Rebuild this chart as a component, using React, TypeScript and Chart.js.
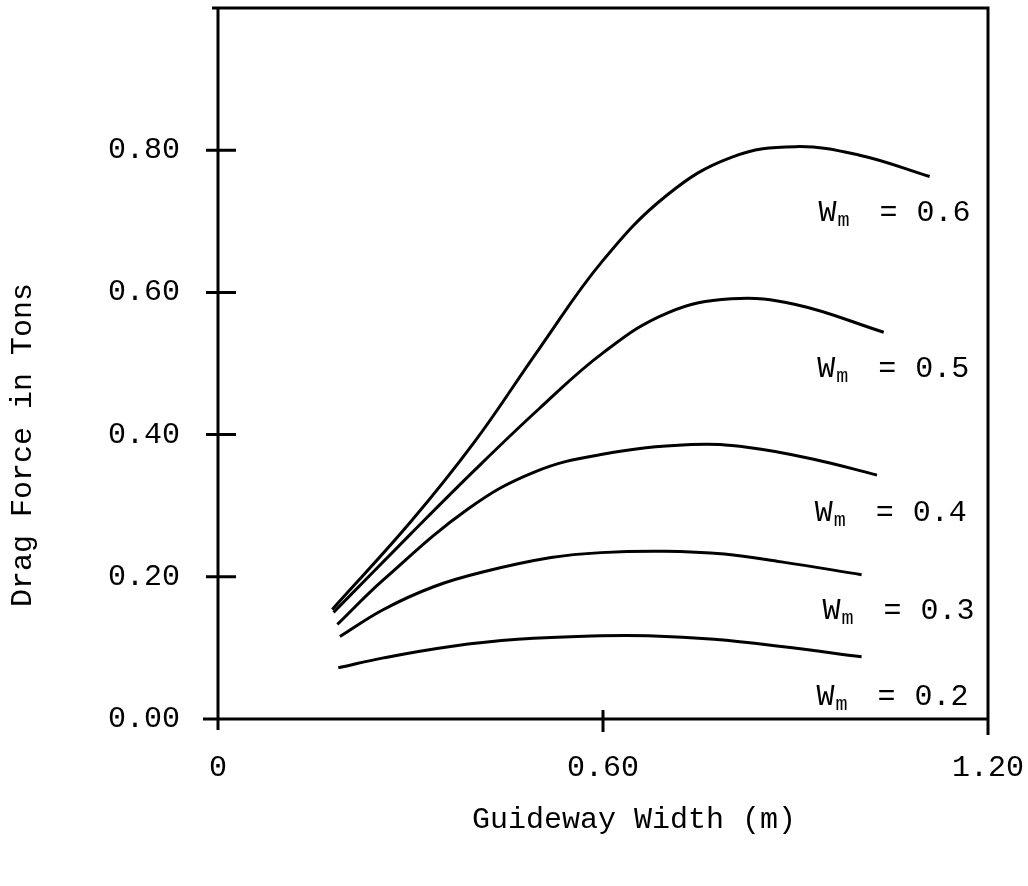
import React, { useEffect, useRef } from 'react';
import { Chart, registerables } from 'chart.js';

Chart.register(...registerables);

// ---- data ----
const seriesLabels = ['0.6', '0.5', '0.4', '0.3', '0.2'];

const w06x = [0.178, 0.3, 0.4, 0.5, 0.6, 0.7, 0.8, 0.9, 1.0, 1.109];
const w06y = [0.154, 0.277, 0.39, 0.52, 0.645, 0.737, 0.79, 0.805, 0.793, 0.763];

const w05x = [0.18, 0.3, 0.4, 0.5, 0.6, 0.7, 0.8, 0.9, 1.0375];
const w05y = [0.15, 0.26, 0.35, 0.436, 0.515, 0.571, 0.591, 0.583, 0.544];

const w04x = [0.186, 0.258, 0.389, 0.492, 0.597, 0.7375, 0.827, 0.93, 1.027];
const w04y = [0.133, 0.196, 0.295, 0.347, 0.372, 0.386, 0.382, 0.365, 0.343];

const w03x = [0.19, 0.258, 0.336, 0.414, 0.519, 0.597, 0.695, 0.789, 0.878, 1.003];
const w03y = [0.116, 0.154, 0.186, 0.207, 0.227, 0.234, 0.236, 0.232, 0.221, 0.203];

const w02x = [0.1875, 0.258, 0.3625, 0.467, 0.597, 0.67, 0.773, 0.878, 1.003];
const w02y = [0.072, 0.086, 0.102, 0.112, 0.117, 0.117, 0.112, 0.102, 0.0875];

// label anchors (data units): left of "W", text baseline
const labelX = [0.939, 0.937, 0.933, 0.945, 0.936];
const labelY = [0.7, 0.481, 0.278, 0.14, 0.02];

const yTicks = [0, 0.2, 0.4, 0.6, 0.8];
const yTickLabels = ['0.00', '0.20', '0.40', '0.60', '0.80'];
const xTicks = [0, 0.6, 1.2];
const xTickLabels = ['0', '0.60', '1.20'];

const xTitle = 'Guideway Width (m)';
const yTitle = 'Drag Force in Tons';

const FONT = '"Liberation Mono", "Courier New", monospace';

const seriesX = [w06x, w05x, w04x, w03x, w02x];
const seriesY = [w06y, w05y, w04y, w03y, w02y];

const framePlugin = {
  id: 'frame',
  afterDraw(chart: any) {
    const { ctx, chartArea: a, scales } = chart;
    const x = scales.x;
    const y = scales.y;
    ctx.save();
    ctx.strokeStyle = '#000';
    ctx.lineWidth = 3;
    ctx.lineCap = 'butt';
    ctx.beginPath();
    // left axis
    ctx.moveTo(a.left, a.top - 1);
    ctx.lineTo(a.left, a.bottom + 11);
    // bottom axis
    ctx.moveTo(a.left - 15, a.bottom);
    ctx.lineTo(a.right, a.bottom);
    // right border
    ctx.moveTo(a.right, a.top - 1);
    ctx.lineTo(a.right, a.bottom + 16);
    // top border
    ctx.moveTo(a.left - 6, a.top);
    ctx.lineTo(a.right + 1.5, a.top);
    // y tick marks (crossing the axis)
    for (const v of yTicks) {
      const py = y.getPixelForValue(v);
      ctx.moveTo(a.left - 12, py);
      ctx.lineTo(a.left + (v === 0 ? 0 : 18), py);
    }
    // interior x tick marks
    for (const v of xTicks) {
      if (v > x.min && v < x.max) {
        const px = x.getPixelForValue(v);
        ctx.moveTo(px, a.bottom - 9);
        ctx.lineTo(px, a.bottom + 13);
      }
    }
    ctx.stroke();

    ctx.fillStyle = '#000';
    // axis titles
    ctx.font = `30px ${FONT}`;
    ctx.textAlign = 'center';
    ctx.textBaseline = 'middle';
    ctx.fillText(xTitle, 634, 820);
    ctx.save();
    ctx.translate(23, 445);
    ctx.rotate(-Math.PI / 2);
    ctx.fillText(yTitle, 0, 0);
    ctx.restore();

    // series labels  W_m = value
    ctx.textAlign = 'left';
    ctx.textBaseline = 'alphabetic';
    seriesLabels.forEach((lab, i) => {
      const px = x.getPixelForValue(labelX[i]);
      const py = y.getPixelForValue(labelY[i]);
      ctx.font = `30px ${FONT}`;
      ctx.fillText('W', px - 2, py);
      ctx.fillText('=', px + 59, py);
      ctx.fillText(lab, px + 96, py);
      ctx.font = `20px ${FONT}`;
      ctx.fillText('m', px + 17, py + 5);
    });
    ctx.restore();
  },
};

export default function App() {
  const canvasRef = useRef<HTMLCanvasElement | null>(null);

  useEffect(() => {
    const canvas = canvasRef.current;
    if (!canvas) return;
    const datasets = seriesLabels.map((lab, i) => ({
      label: 'Wm = ' + lab,
      data: seriesX[i].map((xv, j) => ({ x: xv, y: seriesY[i][j] })),
      borderColor: '#000',
      backgroundColor: '#000',
      borderWidth: 3,
      pointRadius: 0,
      showLine: true,
      fill: false,
      tension: 0.4,
    }));

    const chart = new Chart(canvas, {
      type: 'scatter',
      data: { datasets },
      options: {
        animation: false,
        responsive: false,
        devicePixelRatio: 1,
        layout: { autoPadding: false, padding: { left: 0, top: 8, right: 40, bottom: 0 } },
        plugins: {
          legend: { display: false },
          tooltip: { enabled: false },
          title: { display: false },
        },
        scales: {
          x: {
            type: 'linear',
            min: 0,
            max: 1.2,
            grid: { display: false },
            border: { display: false },
            afterBuildTicks: (s: any) => {
              s.ticks = xTicks.map((v) => ({ value: v }));
            },
            afterFit: (s: any) => {
              s.height = 167;
              s.paddingLeft = 0;
              s.paddingRight = 0;
            },
            ticks: {
              autoSkip: false,
              maxRotation: 0,
              padding: 23,
              color: '#000',
              font: { family: FONT, size: 30 },
              callback: (v: any) => {
                const k = xTicks.findIndex((t) => Math.abs(t - Number(v)) < 1e-9);
                return k >= 0 ? xTickLabels[k] : '';
              },
            },
          },
          y: {
            type: 'linear',
            min: 0,
            max: 1.0,
            grid: { display: false },
            border: { display: false },
            afterBuildTicks: (s: any) => {
              s.ticks = yTicks.map((v) => ({ value: v }));
            },
            afterFit: (s: any) => {
              s.width = 218;
              s.paddingTop = 0;
              s.paddingBottom = 0;
            },
            ticks: {
              autoSkip: false,
              padding: 30,
              color: '#000',
              font: { family: FONT, size: 30 },
              callback: (v: any) => {
                const k = yTicks.findIndex((t) => Math.abs(t - Number(v)) < 1e-9);
                return k >= 0 ? yTickLabels[k] : '';
              },
            },
          },
        },
      },
      plugins: [framePlugin],
    });
    return () => chart.destroy();
  }, []);

  return (
    <div style={{ position: 'absolute', left: 0, top: 0, width: 1028, height: 886, background: '#fff' }}>
      <canvas ref={canvasRef} width={1028} height={886} style={{ display: 'block' }} />
    </div>
  );
}
